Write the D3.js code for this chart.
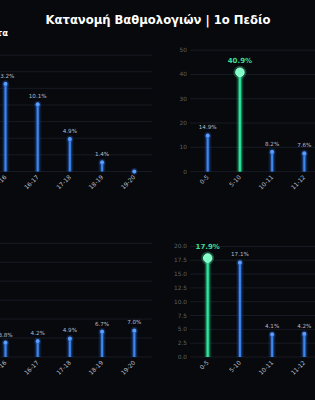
<!DOCTYPE html>
<html>
<head>
<meta charset="utf-8">
<script src="https://cdn.jsdelivr.net/npm/d3@7"></script>
<style>
  html, body { margin: 0; padding: 0; background: #07090d; }
  svg { display: block; font-family: "DejaVu Sans", sans-serif; }
</style>
</head>
<body>
<div id="chart"></div>
<script>

// data (only what shows inside the crop)
var catsLeft = ["15-16", "16-17", "17-18", "18-19", "19-20"];
var catsRight = ["0-5", "5-10", "10-11", "11-12"];

var valsTopLeft = [13.2, 10.1, 4.9, 1.4, 0];
var valsTopRight = [14.9, 40.9, 8.2, 7.6];
var valsBottomLeft = [3.8, 4.2, 4.9, 6.7, 7.0];
var valsBottomRight = [17.9, 17.1, 4.1, 4.2];

var ticksTopLeft = [0, 2.5, 5, 7.5, 10, 12.5, 15, 17.5];
var ticksTopRight = [0, 10, 20, 30, 40, 50];
var ticksBottomLeft = [0, 5, 10, 15, 20, 25, 30];
var ticksBottomRight = [0, 2.5, 5, 7.5, 10, 12.5, 15, 17.5, 20];

var title = "Κατανομή Βαθμολογιών | 1ο Πεδίο";
var subTitleTopLeft = "Όλα τα Τμήματα";

var width = 315,
    height = 400,
    step = 32.2;

var blue = '#3f86ec',
    green = '#2fe39a';

var svg = d3.select('#chart')
    .append('svg')
    .attr('width', width)
    .attr('height', height);

svg.append('rect')
    .attr('width', width)
    .attr('height', height)
    .attr('fill', '#07090d');

svg.append('text')
    .attr('x', 158)
    .attr('y', 24)
    .attr('text-anchor', 'middle')
    .attr('fill', '#ffffff')
    .attr('font-weight', 'bold')
    .attr('font-size', 11.6)
    .text(title);

svg.append('text')
    .attr('x', 8)
    .attr('y', 36)
    .attr('text-anchor', 'end')
    .attr('fill', '#ffffff')
    .attr('font-weight', 'bold')
    .attr('font-size', 8.5)
    .text(subTitleTopLeft);

var panels = [
    { cats: catsLeft, vals: valsTopLeft, ticks: ticksTopLeft, peak: null,
      left: -200, right: 152, top: 47, bottom: 171.5, yMax: 18.72, side: 'left', fmt: '.1f' },
    { cats: catsRight, vals: valsTopRight, ticks: ticksTopRight, peak: "5-10",
      left: 190, right: 520, top: 47, bottom: 171.6, yMax: 51.3, side: 'right', fmt: 'd' },
    { cats: catsLeft, vals: valsBottomLeft, ticks: ticksBottomLeft, peak: null,
      left: -200, right: 152, top: 241, bottom: 357, yMax: 30.6, side: 'left', fmt: 'd' },
    { cats: catsRight, vals: valsBottomRight, ticks: ticksBottomRight, peak: "0-5",
      left: 190, right: 520, top: 241, bottom: 357, yMax: 20.98, side: 'right', fmt: '.1f' }
];

panels.forEach(function (p) {
    var span = step * (p.cats.length - 1 + 1.1);
    var xRange = p.side === 'left' ? [p.right - span, p.right] : [p.left, p.left + span];

    var xScale = d3.scalePoint()
        .domain(p.cats)
        .range(xRange)
        .padding(0.55);

    var yScale = d3.scaleLinear()
        .domain([0, p.yMax])
        .range([p.bottom, p.top]);

    var g = svg.append('g');

    // grid
    g.selectAll('.grid')
        .data(p.ticks)
        .enter()
        .append('line')
        .attr('x1', p.left)
        .attr('x2', p.right)
        .attr('y1', d => yScale(d))
        .attr('y2', d => yScale(d))
        .attr('stroke', '#1c2028')
        .attr('stroke-width', 0.8);

    // y tick labels
    g.selectAll('.ytick')
        .data(p.ticks)
        .enter()
        .append('text')
        .attr('x', p.left - 3)
        .attr('y', d => yScale(d) + 2)
        .attr('text-anchor', 'end')
        .attr('fill', '#5c616b')
        .attr('font-size', 5.8)
        .text(d => d3.format(p.fmt)(d));

    // x tick labels
    g.selectAll('.xtick')
        .data(p.cats)
        .enter()
        .append('text')
        .attr('text-anchor', 'end')
        .attr('transform', d => 'translate(' + (xScale(d) + 1.5) + ',' + (p.bottom + 6) + ') rotate(-45)')
        .attr('fill', '#b9bdc5')
        .attr('font-size', 6)
        .text(d => d);

    var items = p.cats.map((c, i) => ({ cat: c, v: p.vals[i], hot: c === p.peak }));

    // glow layers
    [[8, 0.10], [5.5, 0.22], [3.6, 0.45]].forEach(function (w) {
        g.selectAll(null)
            .data(items)
            .enter()
            .append('line')
            .attr('x1', d => xScale(d.cat))
            .attr('x2', d => xScale(d.cat))
            .attr('y1', p.bottom)
            .attr('y2', d => yScale(d.v))
            .attr('stroke', d => d.hot ? green : '#2a63c9')
            .attr('stroke-width', w[0])
            .attr('stroke-opacity', w[1]);
    });

    g.selectAll(null)
        .data(items)
        .enter()
        .append('line')
        .attr('x1', d => xScale(d.cat))
        .attr('x2', d => xScale(d.cat))
        .attr('y1', p.bottom)
        .attr('y2', d => yScale(d.v))
        .attr('stroke', d => d.hot ? green : blue)
        .attr('stroke-width', 2);

    // dots
    g.selectAll(null)
        .data(items)
        .enter()
        .append('circle')
        .attr('cx', d => xScale(d.cat))
        .attr('cy', d => yScale(d.v))
        .attr('r', d => d.hot ? 6.5 : 3.4)
        .attr('fill', d => d.hot ? green : '#2a63c9')
        .attr('fill-opacity', 0.3);

    g.selectAll(null)
        .data(items)
        .enter()
        .append('circle')
        .attr('cx', d => xScale(d.cat))
        .attr('cy', d => yScale(d.v))
        .attr('r', d => d.hot ? 4.3 : 2)
        .attr('fill', d => d.hot ? '#7dffc6' : '#5b9cff')
        .attr('stroke', d => d.hot ? '#c8ffe6' : 'none')
        .attr('stroke-width', 0.8);

    // value labels
    g.selectAll(null)
        .data(items.filter(d => d.v > 0))
        .enter()
        .append('text')
        .attr('x', d => xScale(d.cat))
        .attr('y', d => yScale(d.v) - (d.hot ? 9 : 6))
        .attr('text-anchor', 'middle')
        .attr('fill', d => d.hot ? '#3ddc97' : '#b8bcc4')
        .attr('font-weight', d => d.hot ? 'bold' : 'normal')
        .attr('font-size', d => d.hot ? 7 : 5.6)
        .text(d => d.v.toFixed(1) + '%');
});

</script>
</body>
</html>
